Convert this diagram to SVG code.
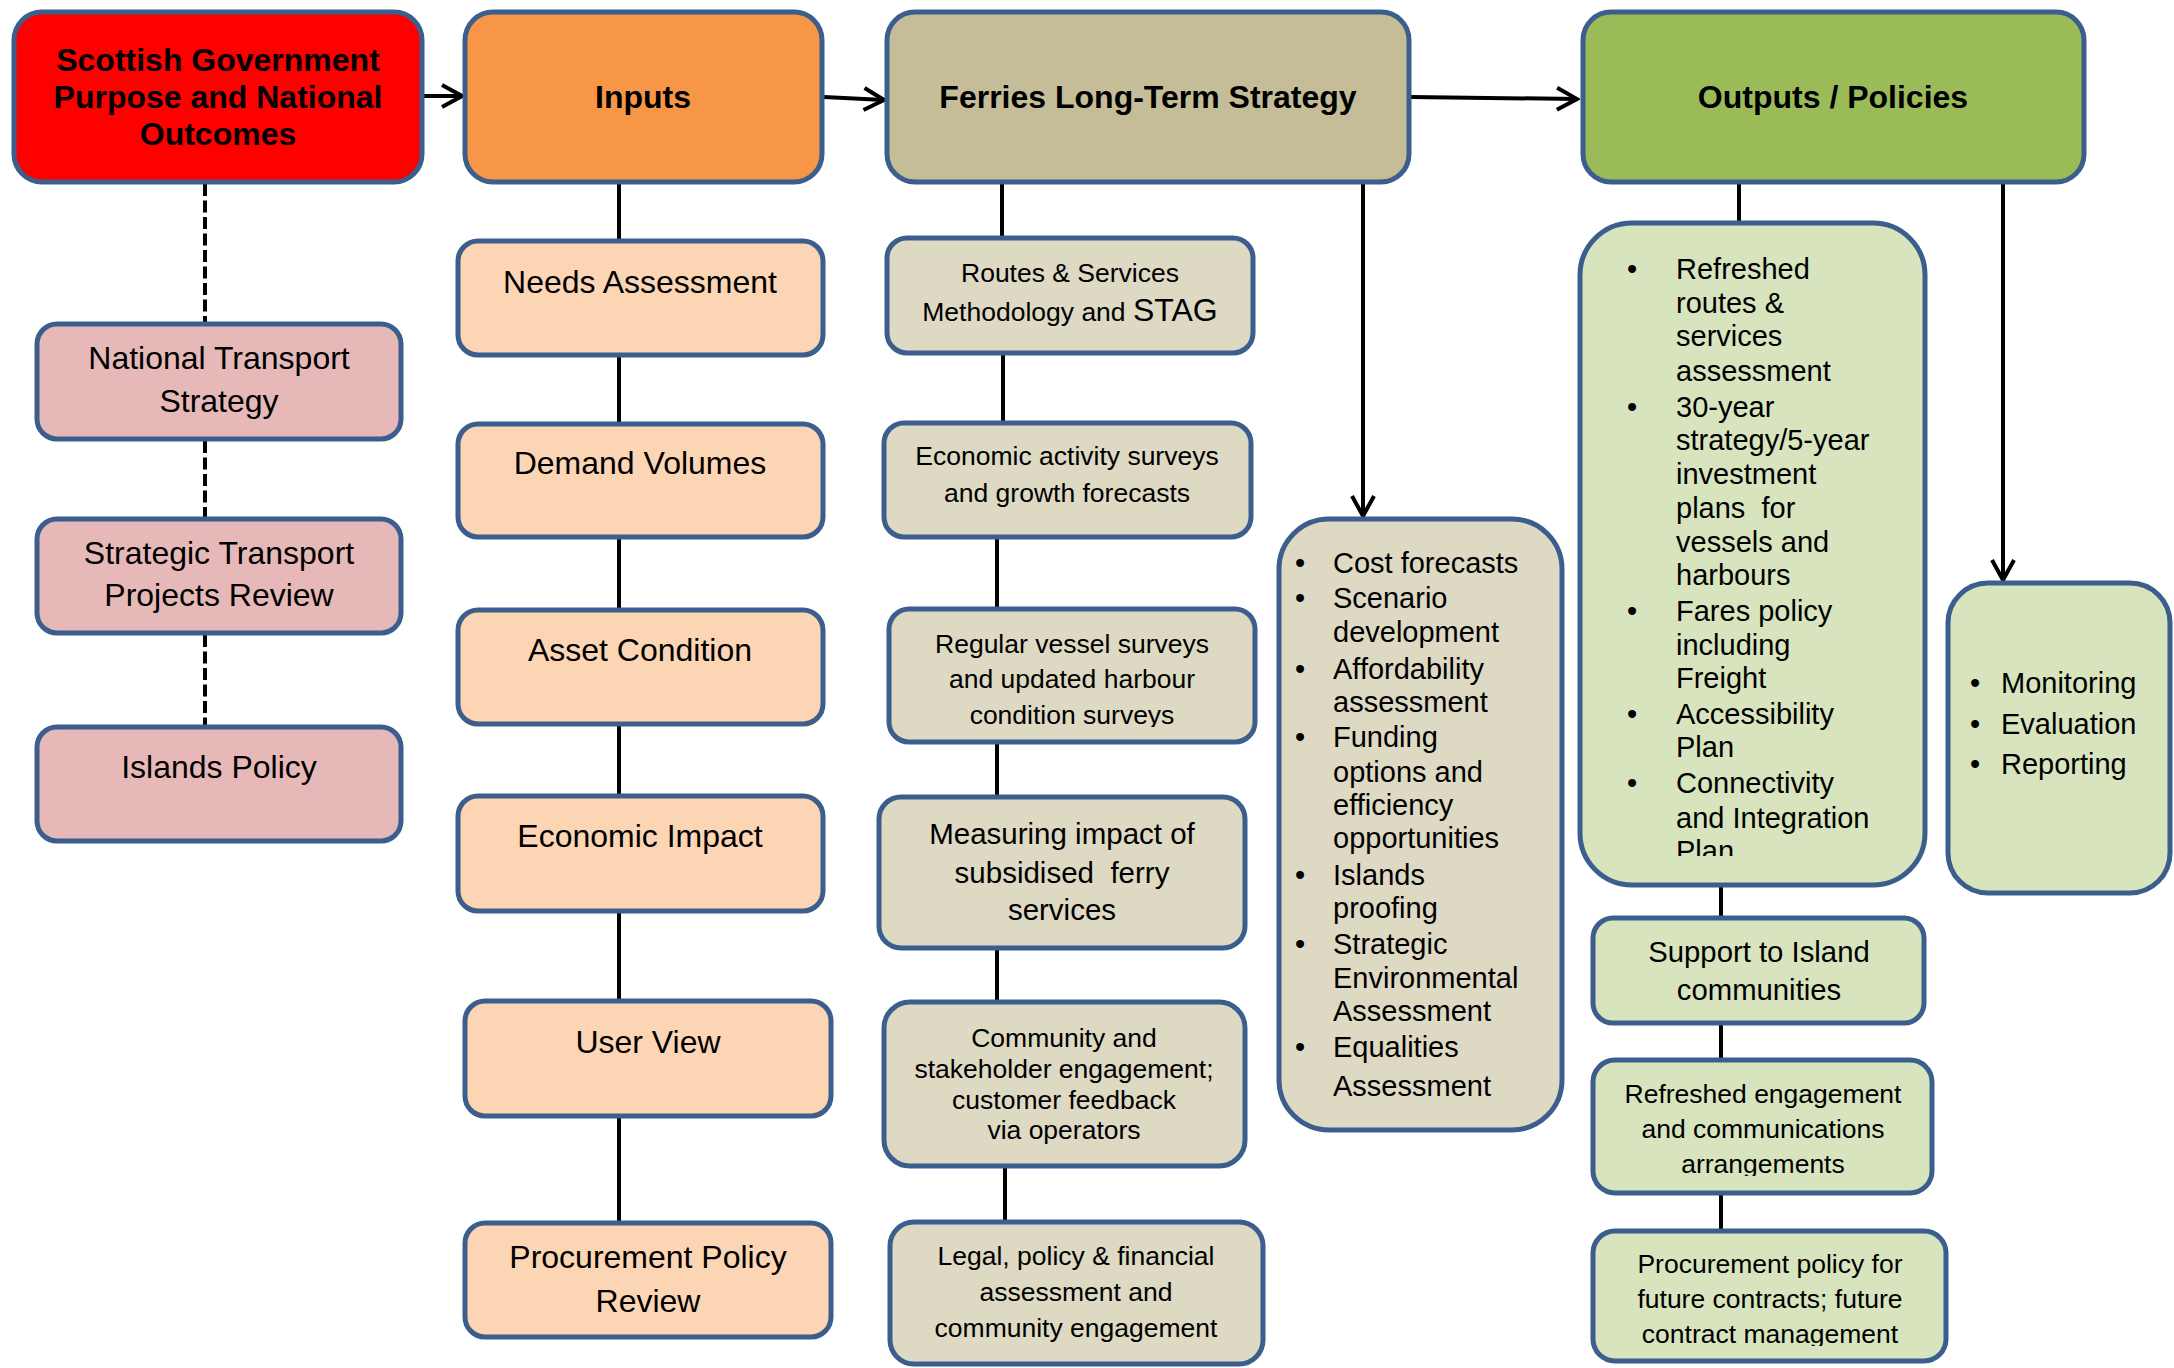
<svg xmlns="http://www.w3.org/2000/svg" width="2174" height="1368" viewBox="0 0 2174 1368">
<defs>
<style>
.box{stroke:#3B5E8C;stroke-width:5}
.red{fill:#FF0000}.orange{fill:#F79646}.tan{fill:#C4BD97}.green{fill:#9BBB59}
.pink{fill:#E6B9B8}.peach{fill:#FCD5B5}.ltan{fill:#DDD9C3}.lgreen{fill:#D7E4BD}
text{font-family:"Liberation Sans",Arial,sans-serif;fill:#000}
.h{font-size:32px;font-weight:bold;text-anchor:middle}
.m{font-size:32px;text-anchor:middle}
.s{font-size:26.5px;text-anchor:middle}
.s31{font-size:29.5px;text-anchor:middle}
.m28{font-size:29.3px;text-anchor:middle}
.l{font-size:29px}
.c{fill:none;stroke:#000;stroke-width:4}
.d{fill:none;stroke:#000;stroke-width:4;stroke-dasharray:12 4.5}
</style>
<marker id="ah" viewBox="-3 -3 26 28" refX="20" refY="11" markerWidth="26" markerHeight="28" markerUnits="userSpaceOnUse" orient="auto">
<path d="M0,0 L20,11 L0,22" fill="none" stroke="#000" stroke-width="4"/>
</marker>
<clipPath id="clipReg"><rect x="880" y="600" width="380" height="127"/></clipPath>
<clipPath id="clipRef"><rect x="1570" y="215" width="360" height="641"/></clipPath>
<clipPath id="clipEng"><rect x="1585" y="1050" width="355" height="126"/></clipPath>
<clipPath id="clipPro"><rect x="1585" y="1222" width="370" height="124"/></clipPath>
</defs>

<g id="connectors">
<line class="c" x1="424" y1="96" x2="462" y2="96" marker-end="url(#ah)"/>
<line class="c" x1="824" y1="97" x2="884" y2="100" marker-end="url(#ah)"/>
<line class="c" x1="1411" y1="97" x2="1577" y2="99" marker-end="url(#ah)"/>
<line class="c" x1="1363" y1="184" x2="1363" y2="516" marker-end="url(#ah)"/>
<line class="c" x1="2003" y1="184" x2="2003" y2="580" marker-end="url(#ah)"/>
<line class="d" x1="205" y1="184" x2="205" y2="322"/>
<line class="d" x1="205" y1="441" x2="205" y2="517"/>
<line class="d" x1="205" y1="635" x2="205" y2="725"/>
<line class="c" x1="619" y1="184" x2="619" y2="239"/>
<line class="c" x1="619" y1="357" x2="619" y2="422"/>
<line class="c" x1="619" y1="539" x2="619" y2="608"/>
<line class="c" x1="619" y1="726" x2="619" y2="794"/>
<line class="c" x1="619" y1="913" x2="619" y2="999"/>
<line class="c" x1="619" y1="1118" x2="619" y2="1221"/>
<line class="c" x1="1002" y1="184" x2="1002" y2="236"/>
<line class="c" x1="1003" y1="355" x2="1003" y2="421"/>
<line class="c" x1="997" y1="539" x2="997" y2="607"/>
<line class="c" x1="997" y1="744" x2="997" y2="795"/>
<line class="c" x1="997" y1="950" x2="997" y2="1000"/>
<line class="c" x1="1005" y1="1168" x2="1005" y2="1220"/>
<line class="c" x1="1739" y1="184" x2="1739" y2="221"/>
<line class="c" x1="1721" y1="887" x2="1721" y2="916"/>
<line class="c" x1="1721" y1="1025" x2="1721" y2="1058"/>
<line class="c" x1="1721" y1="1195" x2="1721" y2="1229"/>
</g>

<g id="scottish-government">
<rect class="box red" x="14" y="12" width="408" height="170" rx="28"/>
<text class="h" x="218" y="71">Scottish Government</text>
<text class="h" x="218" y="108">Purpose and National</text>
<text class="h" x="218" y="145">Outcomes</text>
</g>
<g id="inputs">
<rect class="box orange" x="465" y="12" width="357" height="170" rx="28"/>
<text class="h" x="643" y="108">Inputs</text>
</g>
<g id="ferries-strategy">
<rect class="box tan" x="887" y="12" width="522" height="170" rx="28"/>
<text class="h" x="1148" y="108">Ferries Long-Term Strategy</text>
</g>
<g id="outputs-policies">
<rect class="box green" x="1583" y="12" width="501" height="170" rx="28"/>
<text class="h" x="1833" y="108">Outputs / Policies</text>
</g>

<g id="national-transport-strategy">
<rect class="box pink" x="37" y="324" width="364" height="115" rx="20"/>
<text class="m" x="219" y="369">National Transport</text>
<text class="m" x="219" y="412">Strategy</text>
</g>
<g id="strategic-transport-projects-review">
<rect class="box pink" x="37" y="519" width="364" height="114" rx="20"/>
<text class="m" x="219" y="564">Strategic Transport</text>
<text class="m" x="219" y="606">Projects Review</text>
</g>
<g id="islands-policy">
<rect class="box pink" x="37" y="727" width="364" height="114" rx="20"/>
<text class="m" x="219" y="778">Islands Policy</text>
</g>

<g id="needs-assessment">
<rect class="box peach" x="458" y="241" width="365" height="114" rx="20"/>
<text class="m" x="640" y="293">Needs Assessment</text>
</g>
<g id="demand-volumes">
<rect class="box peach" x="458" y="424" width="365" height="113" rx="20"/>
<text class="m" x="640" y="474">Demand Volumes</text>
</g>
<g id="asset-condition">
<rect class="box peach" x="458" y="610" width="365" height="114" rx="20"/>
<text class="m" x="640" y="661">Asset Condition</text>
</g>
<g id="economic-impact">
<rect class="box peach" x="458" y="796" width="365" height="115" rx="20"/>
<text class="m" x="640" y="847">Economic Impact</text>
</g>
<g id="user-view">
<rect class="box peach" x="465" y="1001" width="366" height="115" rx="20"/>
<text class="m" x="648" y="1053">User View</text>
</g>
<g id="procurement-policy-review">
<rect class="box peach" x="465" y="1223" width="366" height="114" rx="20"/>
<text class="m" x="648" y="1268">Procurement Policy</text>
<text class="m" x="648" y="1312">Review</text>
</g>

<g id="routes-services">
<rect class="box ltan" x="887" y="238" width="366" height="115" rx="20"/>
<text class="s" x="1070" y="282">Routes &amp; Services</text>
<text class="s" x="1070" y="321">Methodology and <tspan font-size="32">STAG</tspan></text>
</g>
<g id="economic-activity-surveys">
<rect class="box ltan" x="884" y="423" width="367" height="114" rx="20"/>
<text class="s" x="1067" y="465">Economic activity surveys</text>
<text class="s" x="1067" y="502">and growth forecasts</text>
</g>
<g id="regular-vessel-surveys">
<rect class="box ltan" x="889" y="609" width="366" height="133" rx="20"/>
<g clip-path="url(#clipReg)">
<text class="s" x="1072" y="653">Regular vessel surveys</text>
<text class="s" x="1072" y="688">and updated harbour</text>
<text class="s" x="1072" y="724">condition surveys</text>
</g>
</g>
<g id="measuring-impact">
<rect class="box ltan" x="879" y="797" width="366" height="151" rx="22"/>
<text class="s31" x="1062" y="844">Measuring impact of</text>
<text class="s31" x="1062" y="883" xml:space="preserve">subsidised  ferry</text>
<text class="s31" x="1062" y="920">services</text>
</g>
<g id="community-engagement">
<rect class="box ltan" x="884" y="1002" width="361" height="164" rx="26"/>
<text class="s" x="1064" y="1047">Community and</text>
<text class="s" x="1064" y="1078">stakeholder engagement;</text>
<text class="s" x="1064" y="1109">customer feedback</text>
<text class="s" x="1064" y="1139">via operators</text>
</g>
<g id="legal-policy-financial">
<rect class="box ltan" x="890" y="1222" width="373" height="142" rx="24"/>
<text class="s" x="1076" y="1265">Legal, policy &amp; financial</text>
<text class="s" x="1076" y="1301">assessment and</text>
<text class="s" x="1076" y="1337">community engagement</text>
</g>

<g id="cost-forecasts">
<rect class="box ltan" x="1279" y="519" width="283" height="611" rx="50"/>
<g class="l">
<text x="1295" y="573">•</text><text x="1333" y="573">Cost forecasts</text>
<text x="1295" y="608">•</text><text x="1333" y="608">Scenario</text>
<text x="1333" y="642">development</text>
<text x="1295" y="679">•</text><text x="1333" y="679">Affordability</text>
<text x="1333" y="712">assessment</text>
<text x="1295" y="747">•</text><text x="1333" y="747">Funding</text>
<text x="1333" y="782">options and</text>
<text x="1333" y="815">efficiency</text>
<text x="1333" y="848">opportunities</text>
<text x="1295" y="885">•</text><text x="1333" y="885">Islands</text>
<text x="1333" y="918">proofing</text>
<text x="1295" y="954">•</text><text x="1333" y="954">Strategic</text>
<text x="1333" y="988">Environmental</text>
<text x="1333" y="1021">Assessment</text>
<text x="1295" y="1057">•</text><text x="1333" y="1057">Equalities</text>
<text x="1333" y="1096">Assessment</text>
</g>
</g>

<g id="refreshed-outputs">
<rect class="box lgreen" x="1580" y="223" width="345" height="662" rx="52"/>
<g class="l" clip-path="url(#clipRef)">
<text x="1627" y="279">•</text><text x="1676" y="279">Refreshed</text>
<text x="1676" y="313">routes &amp;</text>
<text x="1676" y="346">services</text>
<text x="1676" y="381">assessment</text>
<text x="1627" y="417">•</text><text x="1676" y="417">30-year</text>
<text x="1676" y="450">strategy/5-year</text>
<text x="1676" y="484">investment</text>
<text x="1676" y="518" xml:space="preserve">plans  for</text>
<text x="1676" y="552">vessels and</text>
<text x="1676" y="585">harbours</text>
<text x="1627" y="621">•</text><text x="1676" y="621">Fares policy</text>
<text x="1676" y="655">including</text>
<text x="1676" y="688">Freight</text>
<text x="1627" y="724">•</text><text x="1676" y="724">Accessibility</text>
<text x="1676" y="757">Plan</text>
<text x="1627" y="793">•</text><text x="1676" y="793">Connectivity</text>
<text x="1676" y="828">and Integration</text>
<text x="1676" y="861">Plan</text>
</g>
</g>

<g id="monitoring">
<rect class="box lgreen" x="1948" y="583" width="222" height="310" rx="40"/>
<g class="l">
<text x="1970" y="693">•</text><text x="2001" y="693">Monitoring</text>
<text x="1970" y="734">•</text><text x="2001" y="734">Evaluation</text>
<text x="1970" y="774">•</text><text x="2001" y="774">Reporting</text>
</g>
</g>

<g id="support-island-communities">
<rect class="box lgreen" x="1593" y="918" width="331" height="105" rx="20"/>
<text class="m28" x="1759" y="962">Support to Island</text>
<text class="m28" x="1759" y="1000">communities</text>
</g>
<g id="refreshed-engagement">
<rect class="box lgreen" x="1593" y="1060" width="339" height="133" rx="22"/>
<g clip-path="url(#clipEng)">
<text class="s" x="1763" y="1103">Refreshed engagement</text>
<text class="s" x="1763" y="1138">and communications</text>
<text class="s" x="1763" y="1173">arrangements</text>
</g>
</g>
<g id="procurement-policy-future">
<rect class="box lgreen" x="1593" y="1231" width="353" height="130" rx="22"/>
<g clip-path="url(#clipPro)">
<text class="s" x="1770" y="1273">Procurement policy for</text>
<text class="s" x="1770" y="1308">future contracts; future</text>
<text class="s" x="1770" y="1343">contract management</text>
</g>
</g>
</svg>
